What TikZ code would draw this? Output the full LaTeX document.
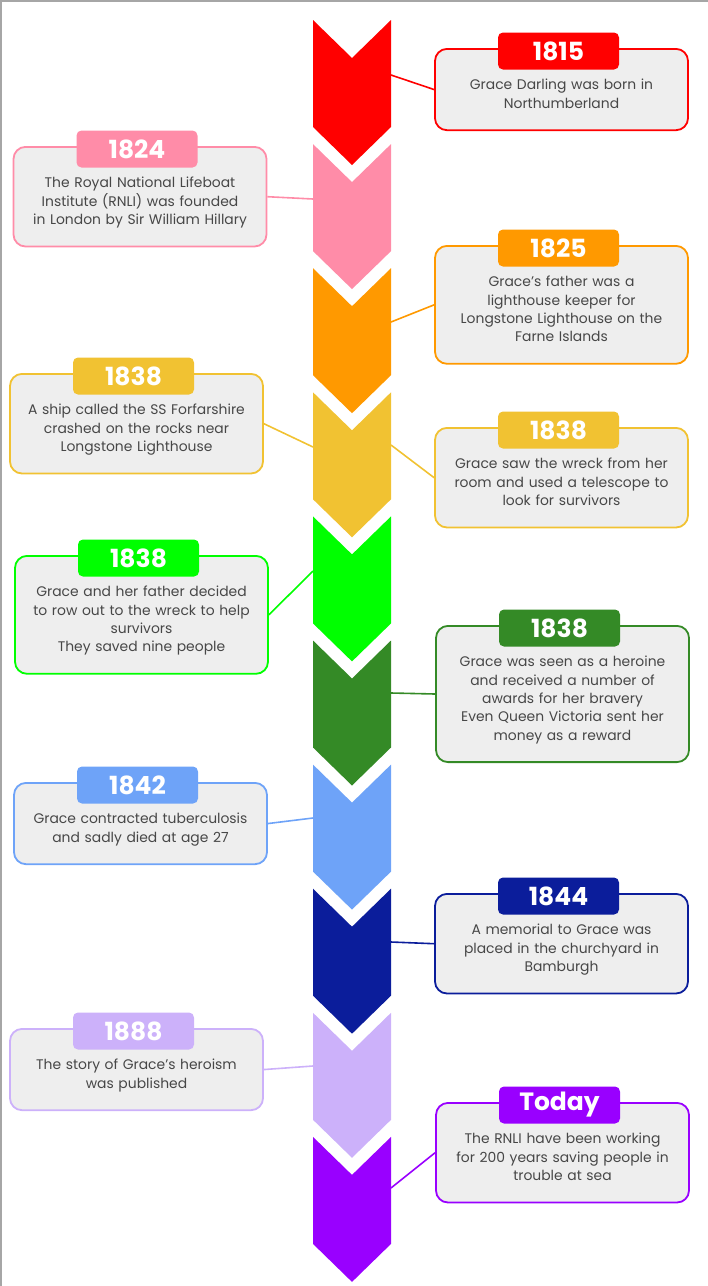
\documentclass[tikz,border=0pt]{standalone}
\usepackage{fontspec}
\setmainfont{Poppins}
\usetikzlibrary{calc}

\definecolor{cRed}{HTML}{FF0000}
\definecolor{cPink}{HTML}{FF8CA8}
\definecolor{cOrange}{HTML}{FF9900}
\definecolor{cGold}{HTML}{F1C232}
\definecolor{cGreen}{HTML}{00FF00}
\definecolor{cDkGreen}{HTML}{348A26}
\definecolor{cLtBlue}{HTML}{6EA3F8}
\definecolor{cNavy}{HTML}{0B1D9B}
\definecolor{cLav}{HTML}{CCB1FA}
\definecolor{cPurple}{HTML}{9900FF}
\definecolor{cardgray}{HTML}{EEEEEE}
\definecolor{txtgray}{HTML}{474747}

\tikzset{
  card/.style={draw=#1, fill=cardgray, line width=1.8pt, rounded corners=12pt,
    text width=241pt, inner xsep=6pt, inner ysep=0pt, align=center, anchor=north,
    text=txtgray, font=\fontsize{13.9}{18.3}\selectfont},
  yeartab/.style={fill=#1, rounded corners=5pt, minimum width=121pt, minimum height=37pt,
    inner sep=0pt, text=white, font=\fontsize{25}{25}\selectfont\bfseries},
  link/.style={draw=#1, line width=1.6pt},
}
\newcommand{\cardtext}[1]{\rule{0pt}{41pt}#1\rule[-22pt]{0pt}{22pt}}

\begin{document}
\begin{tikzpicture}[x=1pt,y=-1pt]
\useasboundingbox (0,0) rectangle (708,1286);
% frame
\draw[gray!70,line width=1.2pt] (0,1) -- (708,1);
\draw[gray!70,line width=1.2pt] (1,0) -- (1,1286);

% Timeline chevrons
\foreach \col [count=\i from 0] in {cRed,cPink,cOrange,cGold,cGreen,cDkGreen,cLtBlue,cNavy,cLav,cPurple}
{
    \pgfmathsetmacro{\t}{20+124.1*\i}
    \fill[\col] (313,\t) -- (352,\t+38) -- (391,\t) -- (391,\t+107) -- (352,\t+145) -- (313,\t+107) -- cycle;
}

% Event cards
\node[card=cRed] (ev1) at (561.5,48) {\cardtext{Grace Darling was born in\\Northumberland}};
\node[card=cPink] (ev2) at (140,146) {\cardtext{The Royal National Lifeboat\\Institute (RNLI) was founded\\in London by Sir William Hillary}};
\node[card=cOrange] (ev3) at (561.5,245) {\cardtext{Grace's father was a\\lighthouse keeper for\\Longstone Lighthouse on the\\Farne Islands}};
\node[card=cGold] (ev4) at (136.5,373) {\cardtext{A ship called the SS Forfarshire\\crashed on the rocks near\\Longstone Lighthouse}};
\node[card=cGold] (ev5) at (561.5,427) {\cardtext{Grace saw the wreck from her\\room and used a telescope to\\look for survivors}};
\node[card=cGreen] (ev6) at (141.5,555) {\cardtext{Grace and her father decided\\to row out to the wreck to help\\survivors\\They saved nine people}};
\node[card=cDkGreen] (ev7) at (562.5,625) {\cardtext{Grace was seen as a heroine\\and received a number of\\awards for her bravery\\Even Queen Victoria sent her\\money as a reward}};
\node[card=cLtBlue] (ev8) at (140.5,782) {\cardtext{Grace contracted tuberculosis\\and sadly died at age 27}};
\node[card=cNavy] (ev9) at (561.5,893) {\cardtext{A memorial to Grace was\\placed in the churchyard in\\Bamburgh}};
\node[card=cLav] (ev10) at (136.5,1028) {\cardtext{The story of Grace’s heroism\\was published}};
\node[card=cPurple] (ev11) at (562.5,1102) {\cardtext{The RNLI have been working\\for 200 years saving people in\\trouble at sea}};

% Year tabs
\node[yeartab=cRed] (yr1) at ($(ev1.north)+(-3,3)$) {1815};
\node[yeartab=cPink] (yr2) at ($(ev2.north)+(-3,3)$) {1824};
\node[yeartab=cOrange] (yr3) at ($(ev3.north)+(-3,3)$) {1825};
\node[yeartab=cGold] (yr4) at ($(ev4.north)+(-3,3)$) {1838};
\node[yeartab=cGold] (yr5) at ($(ev5.north)+(-3,3)$) {1838};
\node[yeartab=cGreen] (yr6) at ($(ev6.north)+(-3,3)$) {1838};
\node[yeartab=cDkGreen] (yr7) at ($(ev7.north)+(-3,3)$) {1838};
\node[yeartab=cLtBlue] (yr8) at ($(ev8.north)+(-3,3)$) {1842};
\node[yeartab=cNavy] (yr9) at ($(ev9.north)+(-3,3)$) {1844};
\node[yeartab=cLav] (yr10) at ($(ev10.north)+(-3,3)$) {1888};
\node[yeartab=cPurple] (yr11) at ($(ev11.north)+(-3,3)$) {Today};

% Links to the timeline
\coordinate (ch1) at (391,75);
\coordinate (ch2) at (313,199);
\coordinate (ch3) at (391,322);
\coordinate (ch4) at (313,447);
\coordinate (ch5) at (391,445);
\coordinate (ch6) at (313,571);
\coordinate (ch7) at (391,693);
\coordinate (ch8) at (313,818);
\coordinate (ch9) at (391,942);
\coordinate (ch10) at (313,1066);
\coordinate (ch11) at (391,1188);
\draw[link=cRed] (ch1) -- (ev1.west);
\draw[link=cPink] (ev2.east) -- (ch2);
\draw[link=cOrange] (ch3) -- (ev3.west);
\draw[link=cGold] (ev4.east) -- (ch4);
\draw[link=cGold] (ch5) -- (ev5.west);
\draw[link=cGreen] (ev6.east) -- (ch6);
\draw[link=cDkGreen] (ch7) -- (ev7.west);
\draw[link=cLtBlue] (ev8.east) -- (ch8);
\draw[link=cNavy] (ch9) -- (ev9.west);
\draw[link=cLav] (ev10.east) -- (ch10);
\draw[link=cPurple] (ch11) -- (ev11.west);
\end{tikzpicture}
\end{document}
